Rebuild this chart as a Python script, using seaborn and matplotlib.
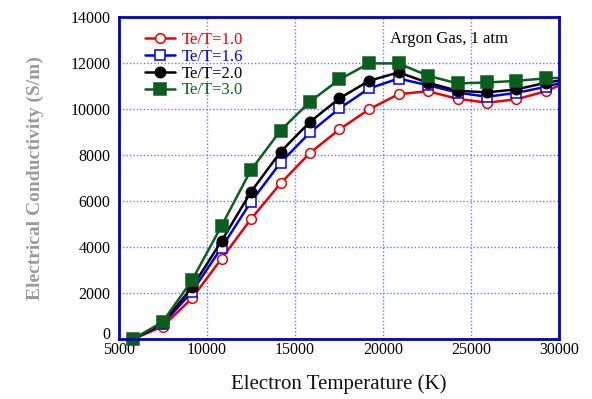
import numpy as np
import pandas as pd
import matplotlib
matplotlib.use("Agg")
import matplotlib.pyplot as plt
import matplotlib.transforms as mtransforms
import seaborn as sns

# measured points (last value at 30000 K is where each curve meets the frame)
temperature = [5800, 7480, 9150, 10830, 12500, 14180, 15860, 17530,
               19210, 20890, 22560, 24240, 25920, 27590, 29270, 30000]
sigma_10 = [0, 550, 1780, 3500, 5220, 6770, 8100, 9120, 9990, 10650,
            10780, 10450, 10280, 10430, 10780, 11020]
sigma_16 = [0, 650, 2060, 3980, 5970, 7670, 8990, 10030, 10900, 11330,
            11040, 10720, 10540, 10710, 10970, 11120]
sigma_20 = [0, 700, 2250, 4270, 6400, 8140, 9450, 10470, 11230, 11600,
            11150, 10800, 10730, 10860, 11150, 11240]
sigma_30 = [0, 750, 2560, 4930, 7350, 9070, 10330, 11290, 11990, 11990,
            11450, 11120, 11160, 11230, 11340, 11360]
labels = ["Te/T=1.0", "Te/T=1.6", "Te/T=2.0", "Te/T=3.0"]
x_ticks = [5000, 10000, 15000, 20000, 25000, 30000]
y_ticks = [0, 2000, 4000, 6000, 8000, 10000, 12000, 14000]

sns.set_theme(style="white")
plt.rcParams['font.family'] = ['Liberation Serif', 'DejaVu Serif']

fig = plt.figure(figsize=(5.92, 3.99), dpi=100)
ax = fig.add_axes([0.201, 0.150, 0.743, 0.807])

series = [sigma_10, sigma_16, sigma_20, sigma_30]
colors = ["#ee0000", "#0000ee", "#000000", "#0b5e1e"]
markers = ["o", "s", "o", "s"]
faces = ["white", "white", "#000000", "#0b5e1e"]
msizes = [7, 7, 7.5, 8]
n_meas = len(temperature) - 1

for i, (vals, lab) in enumerate(zip(series, labels)):
    df = pd.DataFrame({"T": temperature, "sigma": vals})
    sns.lineplot(data=df, x="T", y="sigma", ax=ax, color=colors[i],
                 marker=markers[i], markersize=msizes[i],
                 markerfacecolor=faces[i], markeredgecolor=colors[i],
                 markeredgewidth=1.1, linewidth=1.8, label=lab,
                 markevery=list(range(n_meas)),
                 zorder=3 + i, clip_on=False)

ax.set_xlim(5000, 30000)
ax.set_ylim(0, 14000)
ax.set_xticks(x_ticks)
ax.set_yticks(y_ticks)
ax.set_axisbelow(True)
ax.grid(True, color="#5a5aff", linestyle=(0, (1, 1.5)), linewidth=1.0,
        alpha=0.85)
for s in ax.spines.values():
    s.set_color("#0000cc")
    s.set_linewidth(2)
    s.set_visible(True)
    s.set_zorder(10)
ax.tick_params(axis="both", direction="in", length=3, color="#0000cc",
               labelsize=11.5, labelcolor="black")
ax.tick_params(axis="x", pad=2)
ax.tick_params(axis="y", pad=6)

# nudge the "0" y label up so it doesn't collide with "5000"
ylabels = ax.get_yticklabels()
ylabels[0].set_transform(ylabels[0].get_transform() +
                         mtransforms.ScaledTranslation(0, 6 / 100,
                                                       fig.dpi_scale_trans))

ax.set_xlabel("Electron Temperature (K)", fontsize=15, labelpad=12,
              color="#111111")
ax.set_ylabel("Electrical Conductivity (S/m)", fontsize=14, labelpad=19,
              color="#9a9a9a", fontweight="bold")

ax.text(0.615, 0.958, "Argon Gas, 1 atm", transform=ax.transAxes,
        fontsize=12, va="top", ha="left", color="black")

leg = ax.legend(loc="upper left", bbox_to_anchor=(0.045, 0.975),
                frameon=False, fontsize=12, handlelength=1.8,
                handletextpad=0.35, labelspacing=0.05, borderaxespad=0)
for txt, c in zip(leg.get_texts(), colors):
    txt.set_color(c)

fig.savefig("out.png", dpi=100)
